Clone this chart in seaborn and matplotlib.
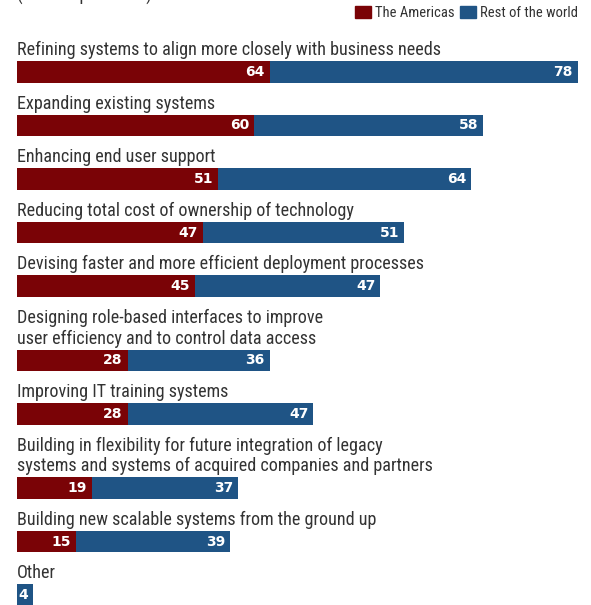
import matplotlib
matplotlib.use("Agg")
import matplotlib.pyplot as plt
from matplotlib import font_manager
from matplotlib.patches import Patch
import numpy as np
import pandas as pd
import seaborn as sns

# ---- data -------------------------------------------------------------
categories = [
    "Refining systems to align more closely with business needs",
    "Expanding existing systems",
    "Enhancing end user support",
    "Reducing total cost of ownership of technology",
    "Devising faster and more efficient deployment processes",
    "Designing role-based interfaces to improve\nuser efficiency and to control data access",
    "Improving IT training systems",
    "Building in flexibility for future integration of legacy\nsystems and systems of acquired companies and partners",
    "Building new scalable systems from the ground up",
    "Other",
]
americas = [64, 60, 51, 47, 45, 28, 28, 19, 15, 0]
rest_of_world = [78, 58, 64, 51, 47, 36, 47, 37, 39, 4]
series_names = ["The Americas", "Rest of the world"]
subtitle = "(% of respondents)"

# ---- style ------------------------------------------------------------
RED = "#7a0306"
BLUE = "#1f5485"
TEXT = "#333333"

sns.set_theme(style="white")
available = {f.name for f in font_manager.fontManager.ttflist}
LABEL_FONT = next(
    (f for f in ["Liberation Sans Narrow", "Roboto Condensed", "Open Sans Condensed",
                 "DejaVu Sans Condensed", "Liberation Sans"] if f in available),
    "DejaVu Sans",
)
plt.rcParams["font.family"] = [LABEL_FONT, "DejaVu Sans"]

# ---- layout (figure pixels) ------------------------------------------
W_PX, H_PX = 591, 605
LEFT_PX, RIGHT_PX = 17, 578
FIRST_BAR_TOP = 61.0
ROW_STEP = 53.6
LINE_STEP = 20.5
BAR_H = 21.5
LABEL_GAP = 6.0
LABEL_SIZE = 13.1

tops = []
top = FIRST_BAR_TOP
for i, lab in enumerate(categories):
    n_lines = lab.count("\n") + 1
    if i > 0:
        top += ROW_STEP + LINE_STEP * (n_lines - 1)
    tops.append(top)
tops = np.array(tops)
centers = tops + BAR_H / 2

df = pd.DataFrame({
    "label": categories,
    "americas": americas,
    "rest": rest_of_world,
})
df["total"] = df["americas"] + df["rest"]
df["pos"] = centers

fig = plt.figure(figsize=(W_PX / 100, H_PX / 100), dpi=100)
ax = fig.add_axes([LEFT_PX / W_PX, 0, (RIGHT_PX - LEFT_PX) / W_PX, 1])

bar_width = BAR_H / ROW_STEP
common = dict(data=df, y="pos", orient="h", native_scale=True, saturation=1,
              width=bar_width, errorbar=None, linewidth=0, ax=ax)
sns.barplot(x="total", color=BLUE, **common)
sns.barplot(x="americas", color=RED, **common)

ax.set_xlim(0, df["total"].max())
ax.set_ylim(H_PX, 0)
ax.axis("off")

# category labels above each bar
for lab, t in zip(df["label"], tops):
    lines = lab.split("\n")
    n = len(lines)
    for k, line in enumerate(lines):
        y = t - LABEL_GAP - LINE_STEP * (n - 1 - k)
        ax.text(0, y, line, ha="left", va="baseline", fontsize=LABEL_SIZE, color=TEXT)

# value labels inside the segments
val_kw = dict(textcoords="offset pixels", xytext=(-5, 0), ha="right", va="center",
              color="white", fontsize=10, fontweight="bold", family="DejaVu Sans")
for a, tot, r, c in zip(df["americas"], df["total"], df["rest"], df["pos"]):
    if a > 0:
        ax.annotate(str(a), xy=(a, c), **val_kw)
    ax.annotate(str(r), xy=(tot, c), **val_kw)

# subtitle (sits at the top edge)
fig.text(LEFT_PX / W_PX, 1 - 0.5 / H_PX, subtitle, ha="left", va="baseline",
         fontsize=LABEL_SIZE, color=TEXT)

# legend
handles = [Patch(color=RED, label=series_names[0]),
           Patch(color=BLUE, label=series_names[1])]
fig.legend(handles=handles, loc="upper right",
           bbox_to_anchor=(RIGHT_PX / W_PX, 1 - 6 / H_PX), ncol=2, frameon=False,
           handlelength=1.1, handleheight=0.9, handletextpad=0.25,
           columnspacing=0.4, borderaxespad=0, borderpad=0,
           prop={"family": LABEL_FONT, "size": 10.5}, labelcolor=TEXT)

fig.savefig("out.png", dpi=100)
